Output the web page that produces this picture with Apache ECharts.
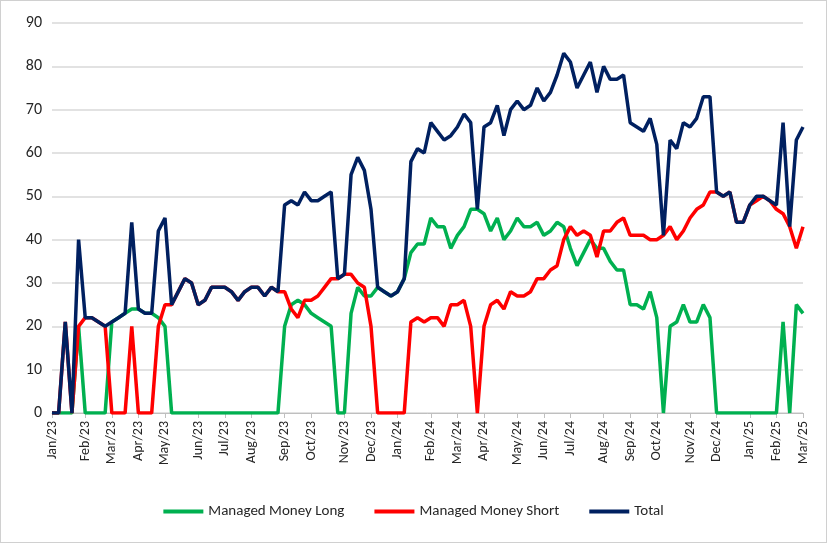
<!DOCTYPE html>
<html>
<head>
<meta charset="utf-8">
<script src="https://cdn.jsdelivr.net/npm/echarts@6/dist/echarts.min.js"></script>
<style>
  html, body { margin: 0; padding: 0; background: #fff; }
  #chart { width: 825px; height: 541px; border: 1px solid #d0d0d0; }
</style>
</head>
<body>
<div id="chart"></div>
<script>
// weekly values, Jan 2023 - Mar 2025
var longVals = [0,0,0,0,20,0,0,0,0,21, 22,23,24,24,23,23,22,20,0,0,
  0,0,0,0,0,0,0,0,0,0, 0,0,0,0,0,20,25,26,25,23,
  22,21,20,0,0,23,29,27,27,29, 28,27,28,31,37,39,39,45,43,43,
  38,41,43,47,47,46,42,45,40,42, 45,43,43,44,41,42,44,43,38,34,
  37,40,38,38,35,33,33,25,25,24, 28,22,0,20,21,25,21,21,25,22,
  0,0,0,0,0,0,0,0,0,0, 21,0,25,23];
var shortVals = [0,0,21,0,20,22,22,21,20,0, 0,0,20,0,0,0,20,25,25,28,
  31,30,25,26,29,29,29,28,26,28, 29,29,27,29,28,28,24,22,26,26,
  27,29,31,31,32,32,30,29,20,0, 0,0,0,0,21,22,21,22,22,20,
  25,25,26,20,0,20,25,26,24,28, 27,27,28,31,31,33,34,40,43,41,
  42,41,36,42,42,44,45,41,41,41, 40,40,41,43,40,42,45,47,48,51,
  51,50,51,44,44,48,49,50,49,47, 46,43,38,43];
var totalVals = [0,0,21,0,40,22,22,21,20,21, 22,23,44,24,23,23,42,45,25,28,
  31,30,25,26,29,29,29,28,26,28, 29,29,27,29,28,48,49,48,51,49,
  49,50,51,31,32,55,59,56,47,29, 28,27,28,31,58,61,60,67,65,63,
  64,66,69,67,47,66,67,71,64,70, 72,70,71,75,72,74,78,83,81,75,
  78,81,74,80,77,77,78,67,66,65, 68,62,41,63,61,67,66,68,73,73,
  51,50,51,44,44,48,50,50,49,48, 67,43,63,66];
var monthNames = ['Jan','Feb','Mar','Apr','May','Jun','Jul','Aug','Sep','Oct','Nov','Dec'];

// weekly report dates
var dates = [];
var start = new Date(Date.UTC(2023, 0, 3));
for (var i = 0; i < totalVals.length; i++) {
  dates.push(new Date(start.getTime() + i * 7 * 86400000));
}
var categories = dates.map(function (d) {
  return monthNames[d.getUTCMonth()] + '/' + String(d.getUTCFullYear()).slice(2);
});
function isMonthStart(idx) {
  return idx === 0 || categories[idx] !== categories[idx - 1];
}

var chart = echarts.init(document.getElementById('chart'));
var font = 'Carlito, Calibri, "Liberation Sans", Arial, sans-serif';
function line(name, data, color) {
  return {
    name: name, type: 'line', data: data, showSymbol: false,
    lineStyle: { color: color, width: 3.5 }, itemStyle: { color: color }
  };
}
chart.setOption({
  animation: false,
  grid: { left: 51, right: 23, top: 22, bottom: 129 },
  xAxis: {
    type: 'category', data: categories, boundaryGap: false,
    axisLine: { lineStyle: { color: '#bfbfbf' } },
    axisTick: { interval: isMonthStart, lineStyle: { color: '#bfbfbf' } },
    axisLabel: { interval: isMonthStart, rotate: 90, color: '#262626', fontSize: 14, fontFamily: font }
  },
  yAxis: {
    type: 'value', min: 0, max: 90, interval: 10,
    axisLabel: { color: '#262626', fontSize: 16, fontFamily: font, margin: 10 },
    splitLine: { lineStyle: { color: '#d9d9d9', width: 1.5 } }
  },
  legend: {
    bottom: 18, itemWidth: 40, itemHeight: 4, itemGap: 30,
    icon: 'rect',
    textStyle: { color: '#262626', fontSize: 15, fontFamily: font },
    data: ['Managed Money Long', 'Managed Money Short', 'Total']
  },
  series: [
    line('Managed Money Long', longVals, '#00b050'),
    line('Managed Money Short', shortVals, '#ff0000'),
    line('Total', totalVals, '#002060')
  ]
});
</script>
</body>
</html>
